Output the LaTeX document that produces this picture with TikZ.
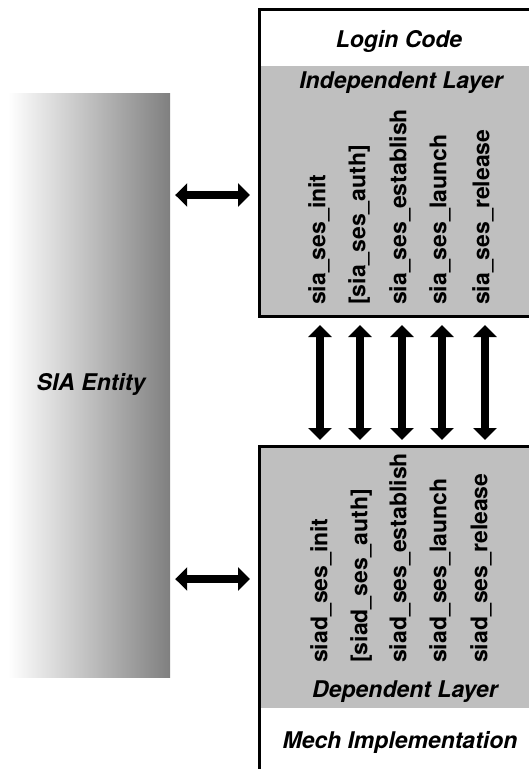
\documentclass[tikz,border=0pt]{standalone}
\usepackage{fontspec}
\setmainfont{TeX Gyre Heros}
\usetikzlibrary{arrows.meta}
\begin{document}
\begin{tikzpicture}[x=1pt,y=-1pt,
  hdr/.style={font=\fontsize{23}{25}\selectfont\bfseries\itshape, inner sep=0},
  fnlbl/.style={font=\fontsize{23}{25}\selectfont\bfseries, rotate=90, anchor=west, inner sep=0},
  layerfill/.style={fill=black!25, inner sep=0, anchor=north west, minimum width=284pt},
  boxline/.style={draw=black, line width=3pt, inner sep=0, anchor=north west, minimum width=284pt},
  dbl/.style={line width=8pt, {Triangle[width=23pt,length=12pt]}-{Triangle[width=23pt,length=12pt]}},
  ]
\useasboundingbox (0,0) rectangle (529,769);
\clip (0,0) rectangle (529,769);
% SIA entity
\node (ent) [minimum width=162pt, minimum height=584pt, inner sep=0, left color=white, right color=black!50] at (89,385) {};
\node (enttxt) [hdr] at (91,384) {SIA Entity};
% top box
\node (indep) [layerfill, minimum height=249pt] at (258,66) {};
\node (topbox) [boxline, minimum height=307pt] at (258,8) {};
\node (login) [hdr] at (399,41) {Login Code};
\node (indeptxt) [hdr] at (401,83) {Independent Layer};
\node (t1) [fnlbl] at (319,305) {sia\_ses\_init};
\node (t2) [fnlbl] at (359,305) {[sia\_ses\_auth]};
\node (t3) [fnlbl] at (400,305) {sia\_ses\_establish};
\node (t4) [fnlbl] at (440,305) {sia\_ses\_launch};
\node (t5) [fnlbl] at (483,305) {sia\_ses\_release};
% bottom box
\node (dep) [layerfill, minimum height=263pt] at (258,445) {};
\node (botbox) [boxline, minimum height=335pt] at (258,445) {};
\node (b1) [fnlbl] at (321,663) {siad\_ses\_init};
\node (b2) [fnlbl] at (361,663) {[siad\_ses\_auth]};
\node (b3) [fnlbl] at (400,663) {siad\_ses\_establish};
\node (b4) [fnlbl] at (440,663) {siad\_ses\_launch};
\node (b5) [fnlbl] at (481,663) {siad\_ses\_release};
\node (deptxt) [hdr] at (405,692) {Dependent Layer};
\node (mech) [hdr] at (400,742) {Mech Implementation};
% vertical arrows
\foreach \i/\x in {1/320,2/360,3/402,4/442,5/485}{
  \coordinate (v\i) at (\x,0);
  \draw[dbl, shorten <=7pt, shorten >=5pt] (v\i |- topbox.south) -- (v\i |- botbox.north);
}
% horizontal arrows
\coordinate (h1) at (0,195);
\coordinate (h2) at (0,579);
\draw[dbl, shorten <=5pt, shorten >=8pt] (ent.east |- h1) -- (topbox.west |- h1);
\draw[dbl, shorten <=5pt, shorten >=8pt] (ent.east |- h2) -- (topbox.west |- h2);
\end{tikzpicture}
\end{document}
